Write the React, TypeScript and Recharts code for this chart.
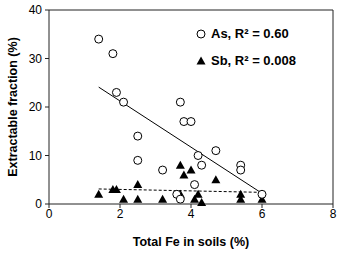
import { ScatterChart, Scatter, XAxis, YAxis, ReferenceLine, Legend } from 'recharts';

// As extractable fraction vs total Fe (%)
const asFe = [1.4, 1.8, 1.9, 2.1, 2.5, 2.5, 3.2, 3.7, 3.8, 4.0, 3.6, 3.7, 4.1, 4.2, 4.3, 4.7, 5.4, 5.4, 6.0];
const asPct = [34, 31, 23, 21, 14, 9, 7, 21, 17, 17, 2, 1, 4, 10, 8, 11, 8, 7, 2];

// Sb extractable fraction vs total Fe (%)
const sbFe = [1.4, 1.8, 1.9, 2.1, 2.5, 2.5, 3.2, 3.7, 3.8, 4.0, 3.7, 4.1, 4.2, 4.3, 4.7, 5.4, 5.4, 6.0];
const sbPct = [2, 3, 3, 1, 4, 1, 1, 8, 6, 7, 2, 1, 2, 0.3, 5, 2, 1, 1];

// regression lines (end points)
const fitFe = [1.4, 6.0];
const asFit = [24.1, 2.2];
const sbFit = [3.1, 2.4];

const xTicks = [0, 2, 4, 6, 8];
const yTicks = [0, 10, 20, 30, 40];

const toPts = (xs: number[], ys: number[]) => xs.map((x, i) => ({ x, y: ys[i] }));

const font = '"Liberation Sans", Arial, sans-serif';

const Circle = (p: any) => <circle cx={p.cx} cy={p.cy} r={4} fill="#fff" stroke="#000" strokeWidth={1} />;
const Tri = (p: any) => (
  <polygon points={`${p.cx},${p.cy - 4.5} ${p.cx + 4.5},${p.cy + 3.5} ${p.cx - 4.5},${p.cy + 3.5}`} fill="#000" />
);
const NoShape = () => <g />;

const LegendBox = () => (
  <div style={{ fontFamily: font, fontWeight: 'bold', fontSize: 13, color: '#000', lineHeight: '27px' }}>
    <div style={{ display: 'flex', alignItems: 'center' }}>
      <svg width={10} height={10} style={{ marginRight: 5 }}><circle cx={5} cy={5} r={4} fill="#fff" stroke="#000" /></svg>
      As, R² = 0.60
    </div>
    <div style={{ display: 'flex', alignItems: 'center' }}>
      <svg width={10} height={10} style={{ marginRight: 5 }}><polygon points="5,0.5 9.5,8.5 0.5,8.5" fill="#000" /></svg>
      Sb, R² = 0.008
    </div>
  </div>
);

export default function App() {
  return (
    <div style={{ position: 'absolute', left: 0, top: 0 }}>
      <ScatterChart width={350} height={253} margin={{ top: 10, right: 17, bottom: 0, left: 0 }}>
        <XAxis
          type="number" dataKey="x" domain={[0, 8]} ticks={xTicks} height={49}
          axisLine={{ stroke: '#222' }} tickLine={{ stroke: '#222' }} tickSize={4} tickMargin={1}
          tick={{ fill: '#000', fontSize: 12, fontFamily: font }}
          label={{ value: 'Total Fe in soils (%)', position: 'insideBottom', offset: 7, style: { fill: '#000', fontWeight: 'bold', fontSize: 12.5, fontFamily: font } }}
        />
        <YAxis
          type="number" dataKey="y" domain={[0, 40]} ticks={yTicks} width={49}
          axisLine={{ stroke: '#222' }} tickLine={{ stroke: '#222' }} tickSize={4} tickMargin={3}
          tick={{ fill: '#000', fontSize: 12, fontFamily: font }}
          label={{ value: 'Extractable fraction (%)', angle: -90, position: 'insideLeft', offset: 13, style: { textAnchor: 'middle', fill: '#000', fontWeight: 'bold', fontSize: 12.5, fontFamily: font } }}
        />
        <ReferenceLine y={40} stroke="#222" />
        <ReferenceLine x={8} stroke="#222" />
        <Legend
          layout="vertical" align="center" verticalAlign="middle"
          wrapperStyle={{ position: 'absolute', left: 196, top: 20, width: 'auto' }}
          content={() => <LegendBox />}
        />
        <Scatter data={toPts(fitFe, asFit)} line={{ stroke: '#000', strokeWidth: 1 }} shape={NoShape} isAnimationActive={false} legendType="none" />
        <Scatter data={toPts(fitFe, sbFit)} line={{ stroke: '#000', strokeWidth: 1, strokeDasharray: '3 2' }} shape={NoShape} isAnimationActive={false} legendType="none" />
        <Scatter data={toPts(sbFe, sbPct)} shape={Tri} isAnimationActive={false} />
        <Scatter data={toPts(asFe, asPct)} shape={Circle} isAnimationActive={false} />
      </ScatterChart>
    </div>
  );
}
